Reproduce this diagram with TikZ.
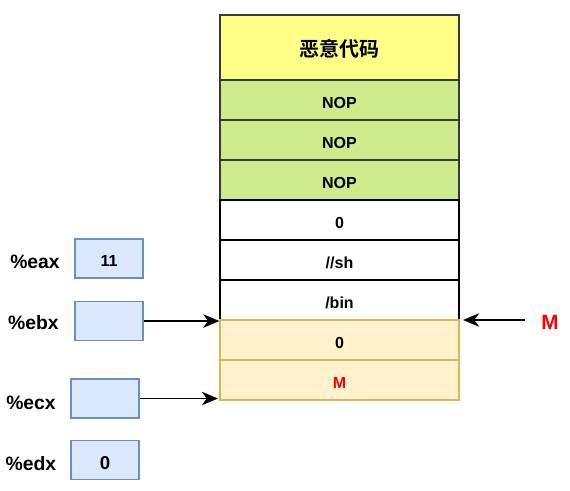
\documentclass[tikz,border=0pt]{standalone}
\usepackage{fontspec}
\setmainfont{Liberation Sans}
\newfontfamily\cjk{Noto Sans CJK SC}[BoldFont={Noto Sans CJK SC Bold}]
\usetikzlibrary{arrows.meta}

\definecolor{codefill}{HTML}{FFFF88}
\definecolor{nopfill}{HTML}{CDEB8B}
\definecolor{darkline}{HTML}{36393D}
\definecolor{memfill}{HTML}{FFF2CC}
\definecolor{memline}{HTML}{D6B656}
\definecolor{regfill}{HTML}{DAE8FC}
\definecolor{regline}{HTML}{6C8EBF}
\definecolor{mred}{HTML}{FF0000}

\begin{document}
\begin{tikzpicture}[x=0.75pt, y=-0.75pt,
    cell/.style={draw, line width=1pt, minimum width=179.25pt, minimum height=30pt,
                 inner sep=0pt, text height=13pt, text depth=0pt,
                 font=\bfseries\fontsize{12}{14}\selectfont},
    reg/.style={draw=regline, fill=regfill, line width=1.3pt, minimum width=51pt,
                minimum height=29.25pt, inner sep=0pt, text height=12.5pt, text depth=0pt,
                font=\bfseries\fontsize{12}{14}\selectfont},
    reglabel/.style={font=\bfseries\fontsize{14.5}{16}\selectfont},
    ptr/.style={-{Stealth[length=12pt, width=10pt, inset=3.5pt]}, line width=1.4pt}]
    \useasboundingbox (0, 0) rectangle (570, 491);
    % stack: code, nops, string, argv
    \node[cell, draw=darkline, fill=codefill, minimum height=48.75pt, text height=14pt,
          font=\cjk\bfseries\fontsize{15}{17}\selectfont] (code) at (339.5, 47.5) {恶意代码};
    \node[cell, draw=darkline, fill=nopfill] (nop1) at (339.5, 100) {NOP};
    \node[cell, draw=darkline, fill=nopfill] (nop2) at (339.5, 140) {NOP};
    \node[cell, draw=darkline, fill=nopfill] (nop3) at (339.5, 180) {NOP};
    \node[cell] (zero) at (339.5, 220) {0};
    \node[cell] (sh) at (339.5, 260) {//sh};
    \node[cell] (bin) at (339.5, 300) {/bin};
    \node[cell, draw=memline, fill=memfill] (null) at (339.5, 340) {0};
    \node[cell, draw=memline, fill=memfill, text=mred] (addr) at (339.5, 380) {M};

    % registers
    \node[reglabel] (leax) at (35, 262) {\%eax};
    \node[reg] (eax) at (109, 258.5) {11};
    \node[reglabel] (lebx) at (33.5, 323) {\%ebx};
    \node[reg] (ebx) at (109, 321) {};
    \node[reglabel] (lecx) at (31, 403) {\%ecx};
    \node[reg] (ecx) at (105, 398.5) {};
    \node[reglabel] (ledx) at (31, 464) {\%edx};
    \node[reg, text height=14.5pt, font=\bfseries\fontsize{14}{16}\selectfont] (edx) at (105, 460) {0};

    % pointers
    \coordinate (ecxend) at (218, 398.5);
    \coordinate (mstart) at (525, 320);
    \node[text=mred, font=\bfseries\fontsize{15.5}{17}\selectfont] (mlabel) at (550, 322) {M};
    \draw[ptr] (ebx.east) -- (ebx.east -| addr.west);
    \draw[ptr] (ecx.east) -- (ecxend);
    \draw[ptr] (mstart) -- (mstart -| 463, 0);
\end{tikzpicture}
\end{document}
